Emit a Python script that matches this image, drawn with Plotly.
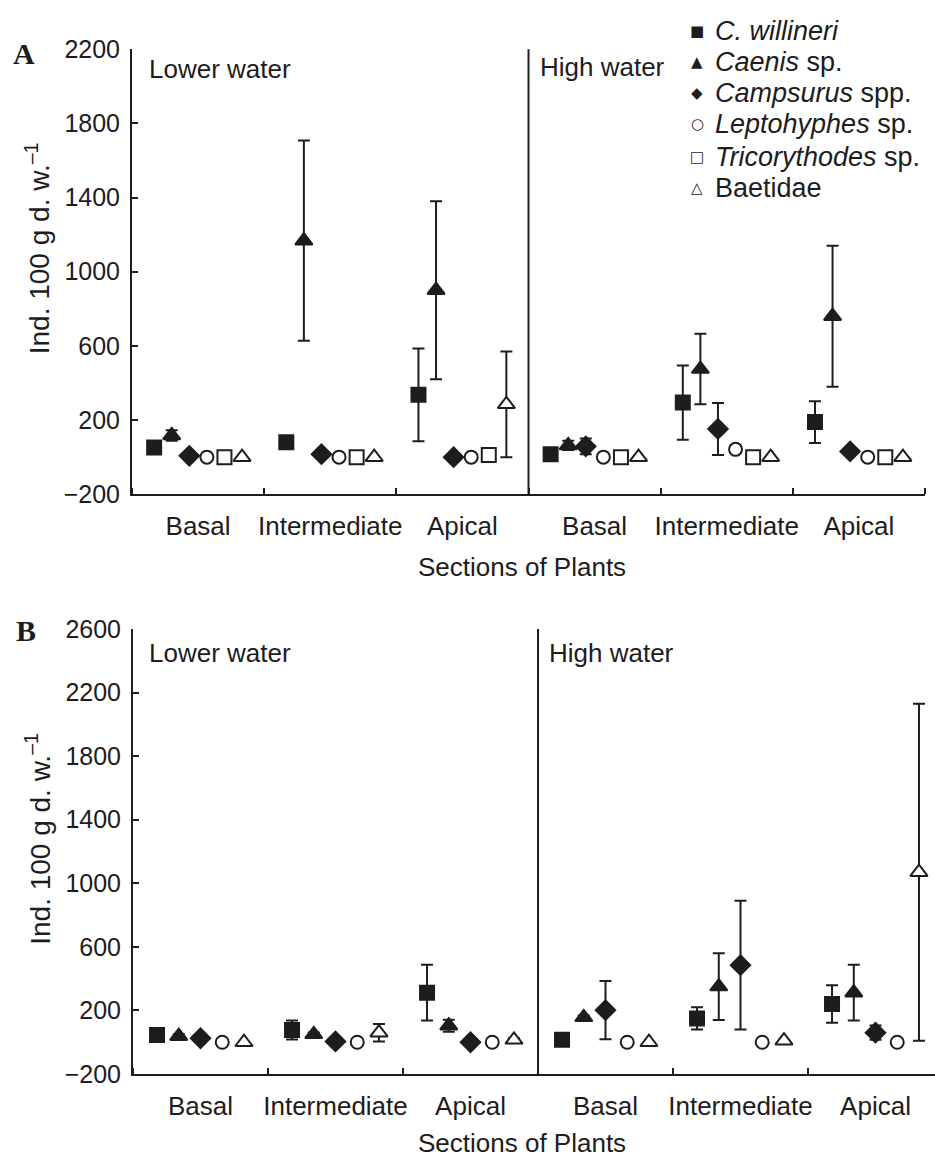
import plotly.graph_objects as go

W, H = 935, 1171

# ---------------- data ----------------
species = ["<i>C. willineri</i>", "<i>Caenis</i> sp.", "<i>Campsurus</i> spp.",
           "<i>Leptohyphes</i> sp.", "<i>Tricorythodes</i> sp.", "Baetidae"]
legend_glyphs = ["■", "▲", "◆", "○", "□", "△"]
sections = ["Basal", "Intermediate", "Apical"]
periods = ["Lower water", "High water"]
# x groups: Lower water (Basal, Intermediate, Apical), High water (Basal, Intermediate, Apical)
group_pos = [0, 1, 2, 3, 4, 5]

# Panel A
A_willineri = [52, 80, 336, 16, 294, 189]
A_willineri_err = [0, 25, 250, 0, 200, 113]
A_caenis = [117, 1167, 900, 63, 475, 760]
A_caenis_err = [28, 540, 480, 25, 190, 380]
A_campsurus = [7, 16, 0, 58, 152, 31]
A_campsurus_err = [0, 15, 0, 42, 140, 15]
A_leptohyphes = [0, 0, 0, 0, 42, 0]
A_leptohyphes_err = [0, 0, 0, 0, 20, 0]
A_tricorythodes = [0, 0, 12, 0, 0, 0]
A_tricorythodes_err = [0, 0, 0, 0, 0, 0]
A_baetidae = [0, 0, 285, 0, 0, 0]
A_baetidae_err = [0, 0, 285, 0, 0, 0]

# Panel B (no Tricorythodes)
B_willineri = [45, 77, 312, 15, 150, 240]
B_willineri_err = [0, 60, 175, 0, 70, 118]
B_caenis = [38, 50, 104, 157, 350, 312]
B_caenis_err = [12, 12, 38, 12, 210, 175]
B_campsurus = [25, 5, 0, 202, 485, 60]
B_campsurus_err = [10, 0, 0, 183, 405, 45]
B_leptohyphes = [0, 0, 0, 0, 0, 0]
B_leptohyphes_err = [0, 0, 0, 0, 0, 0]
B_baetidae = [0, 60, 15, 0, 10, 1070]
B_baetidae_err = [0, 55, 10, 0, 5, 1060]

y_ticks_A = [-200, 200, 600, 1000, 1400, 1800, 2200]
y_ticks_B = [-200, 200, 600, 1000, 1400, 1800, 2200, 2600]

# ---------------- styles ----------------
INK = "#1e1c1d"
FONT = "Liberation Sans, Arial, Helvetica, sans-serif"
styles = {
    0: dict(symbol="square", size=14, color=INK),
    1: dict(symbol="triangle-up", size=15, color=INK),
    2: dict(symbol="diamond", size=15, color=INK),
    3: dict(symbol="circle", size=13, color="white"),
    4: dict(symbol="square", size=14, color="white"),
    5: dict(symbol="triangle-up", size=15, color="white"),
}

def px(x):
    return x / W

def py(y):
    return 1 - y / H

fig = go.Figure()

A_series = [(A_willineri, A_willineri_err), (A_caenis, A_caenis_err),
            (A_campsurus, A_campsurus_err), (A_leptohyphes, A_leptohyphes_err),
            (A_tricorythodes, A_tricorythodes_err), (A_baetidae, A_baetidae_err)]
B_series = [(B_willineri, B_willineri_err), (B_caenis, B_caenis_err),
            (B_campsurus, B_campsurus_err), (B_leptohyphes, B_leptohyphes_err),
            None, (B_baetidae, B_baetidae_err)]

stepA = 0.133
for i, (vals, errs) in enumerate(A_series):
    st = styles[i]
    xs = [g + (i - 2.5) * stepA for g in group_pos]
    fig.add_trace(go.Scatter(
        x=xs, y=vals, mode="markers", name=species[i],
        marker=dict(symbol=st["symbol"], size=st["size"], color=st["color"],
                    line=dict(color=INK, width=2)),
        error_y=dict(type="data", array=errs, color=INK, thickness=2, width=6),
        xaxis="x", yaxis="y", showlegend=False))

stepB = 0.161
bi = 0
for i, s in enumerate(B_series):
    if s is None:
        continue
    vals, errs = s
    st = styles[i]
    xs = [g + (bi - 2) * stepB for g in group_pos]
    bi += 1
    fig.add_trace(go.Scatter(
        x=xs, y=vals, mode="markers", name=species[i],
        marker=dict(symbol=st["symbol"], size=st["size"], color=st["color"],
                    line=dict(color=INK, width=2)),
        error_y=dict(type="data", array=errs, color=INK, thickness=2, width=6),
        xaxis="x2", yaxis="y2", showlegend=False))

tick_text = sections + sections

def xaxis_cfg(domain, rng, anchor):
    return dict(domain=domain, range=rng, anchor=anchor, tickmode="array",
                tickvals=group_pos, ticktext=tick_text, ticks="", showline=True,
                linecolor=INK, linewidth=2, showgrid=False, zeroline=False,
                tickfont=dict(family=FONT, size=26, color=INK),
                ticklabelstandoff=8,
                minor=dict(tickmode="linear", tick0=0.5, dtick=1, ticks="inside",
                           ticklen=6, tickwidth=2, tickcolor=INK, showgrid=False))

def yaxis_cfg(domain, rng, ticks, anchor):
    return dict(domain=domain, range=rng, anchor=anchor, tickmode="array",
                tickvals=ticks, ticks="inside", ticklen=6, tickwidth=2,
                tickcolor=INK, showline=True, linecolor=INK, linewidth=2,
                showgrid=False, zeroline=False,
                tickfont=dict(family=FONT, size=25, color=INK),
                ticklabelstandoff=5)

A_left, A_right, A_top, A_bot = 132, 925, 36, 492
B_left, B_right, B_top, B_bot = 133, 935, 630, 1086
catB = 135.0

fig.update_layout(
    width=W, height=H, paper_bgcolor="white", plot_bgcolor="white",
    margin=dict(l=0, r=0, t=0, b=0),
    showlegend=False,
    xaxis=xaxis_cfg([px(A_left), px(A_right)], [-0.5, 5.5], "y"),
    yaxis=yaxis_cfg([py(A_bot), py(A_top)], [-200, 2200], y_ticks_A, "x"),
    xaxis2=xaxis_cfg([px(B_left), px(B_right)],
                     [-0.5, -0.5 + (B_right - B_left) / catB], "y2"),
    yaxis2=yaxis_cfg([py(B_bot), py(B_top)], [-200, 2600], y_ticks_B, "x2"),
)

# divider lines between Lower water and High water
for xr, yr in (("x", "y domain"), ("x2", "y2 domain")):
    fig.add_shape(type="line", xref=xr, yref=yr, x0=2.5, x1=2.5, y0=0, y1=1,
                  line=dict(color=INK, width=2))

ann = []
txt = dict(family=FONT, size=26, color=INK)
serif = dict(family="Liberation Serif, Times New Roman, serif", size=30, color=INK)

def note(text, x, y, font, xa="center", ya="middle", angle=0):
    ann.append(dict(text=text, x=px(x), y=py(y), xref="paper", yref="paper",
                    xanchor=xa, yanchor=ya, textangle=angle, showarrow=False,
                    font=font))

# panel letters
note("<b>A</b>", 24, 40, serif)
note("<b>B</b>", 26, 632, serif)
# period labels
note(periods[0], 147, 56, txt, xa="left")
note(periods[1], 538, 54, txt, xa="left")
note(periods[0], 147, 655, txt, xa="left")
note(periods[1], 547, 655, txt, xa="left")
# x titles
note("Sections of Plants", 522, 567, txt)
note("Sections of Plants", 522, 1157, txt)
# y titles
ytitle = "Ind. 100 g d. w.<sup>–1</sup>"
title_font = dict(family=FONT, size=28, color=INK)
note(ytitle, 38, 240, title_font, angle=-90)
note(ytitle, 38, 845, title_font, angle=-90)

# legend (glyph + label)
legend_rows = [17, 49, 81, 113, 146, 178]
glyph_font = dict(family="DejaVu Sans, sans-serif", size=15, color=INK)
for i, yrow in enumerate(legend_rows):
    note(legend_glyphs[i], 697, yrow, glyph_font)
    note(species[i], 713, yrow, dict(family=FONT, size=27, color=INK), xa="left")

fig.update_layout(annotations=ann)

fig.write_html("out.html", config={"displayModeBar": False},
               post_script="document.body.style.margin='0px';document.body.style.overflow='hidden';")
